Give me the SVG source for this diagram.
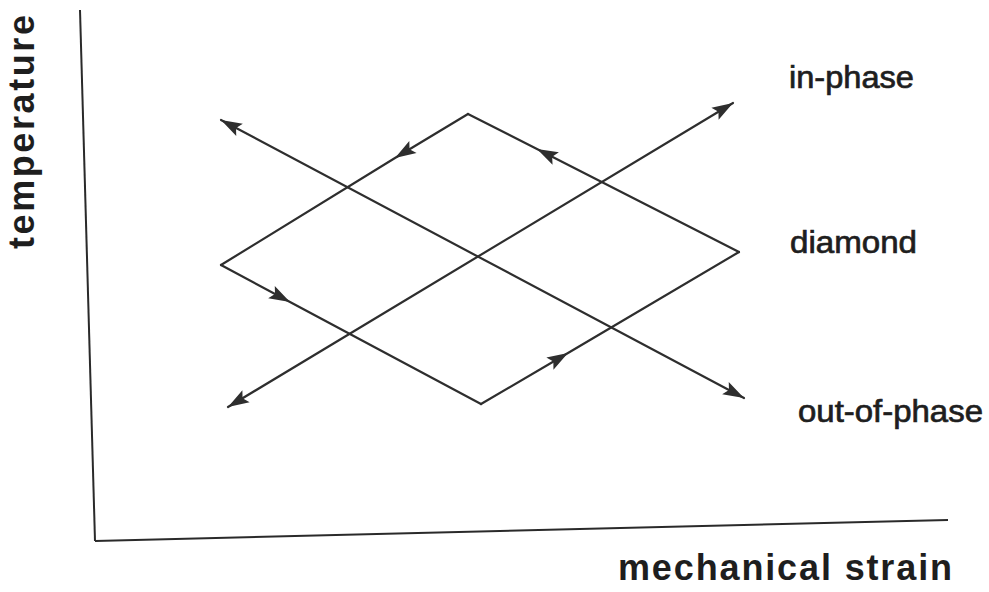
<svg xmlns="http://www.w3.org/2000/svg" width="989" height="592" viewBox="0 0 989 592">
<style>
.ln{fill:none;stroke:#2e2e2e;stroke-width:2.2;stroke-linecap:round;stroke-linejoin:miter}
.ax{fill:none;stroke:#2a2a2a;stroke-width:2}
.lbl{font-family:"Liberation Sans",Arial,sans-serif;font-size:31px;fill:#1e1e1e;stroke:#1e1e1e;stroke-width:0.7}
.axl{font-family:"Liberation Sans",Arial,sans-serif;font-size:36px;font-weight:bold;fill:#1e1e1e}
</style>
<defs>
<marker id="ah" markerUnits="userSpaceOnUse" markerWidth="26" markerHeight="16" viewBox="-22 -8 24 16" refX="0" refY="0" orient="auto">
<path d="M0,0 L-21,-7 L-17,0 L-21,7 z" fill="#2e2e2e"/>
</marker>
<marker id="ahs" markerUnits="userSpaceOnUse" markerWidth="26" markerHeight="16" viewBox="-22 -8 24 16" refX="0" refY="0" orient="auto-start-reverse">
<path d="M0,0 L-21,-7 L-17,0 L-21,7 z" fill="#2e2e2e"/>
</marker>
</defs>
<g id="axes">
<path class="ax" d="M80,10 L95,541"/>
<path class="ax" d="M95,541 L948,520"/>
</g>
<g id="connectors">
<path class="ln" d="M228,407 L733,103" marker-start="url(#ahs)" marker-end="url(#ahs)"/>
<path class="ln" d="M221,120 L744,398" marker-start="url(#ahs)" marker-end="url(#ahs)"/>
<polyline class="ln" points="468,114 395,158 221,265" marker-mid="url(#ah)"/>
<polyline class="ln" points="221,265 290,302 481,404" marker-mid="url(#ah)"/>
<polyline class="ln" points="481,404 568,353 739,252" marker-mid="url(#ah)"/>
<polyline class="ln" points="739,252 537,149 468,114" marker-mid="url(#ah)"/>
</g>
<g id="label-inphase"><text class="lbl" x="789" y="88" textLength="125" lengthAdjust="spacingAndGlyphs">in-phase</text></g>
<g id="label-diamond"><text class="lbl" x="790" y="253" textLength="127" lengthAdjust="spacingAndGlyphs">diamond</text></g>
<g id="label-outofphase"><text class="lbl" x="798" y="422" textLength="185" lengthAdjust="spacingAndGlyphs">out-of-phase</text></g>
<g id="label-strain"><text class="axl" x="618" y="580" textLength="334" lengthAdjust="spacing">mechanical strain</text></g>
<g id="label-temp"><text class="axl" transform="translate(34,249) rotate(-90)" x="0" y="0" font-size="37" textLength="234" lengthAdjust="spacing">temperature</text></g>
</svg>
